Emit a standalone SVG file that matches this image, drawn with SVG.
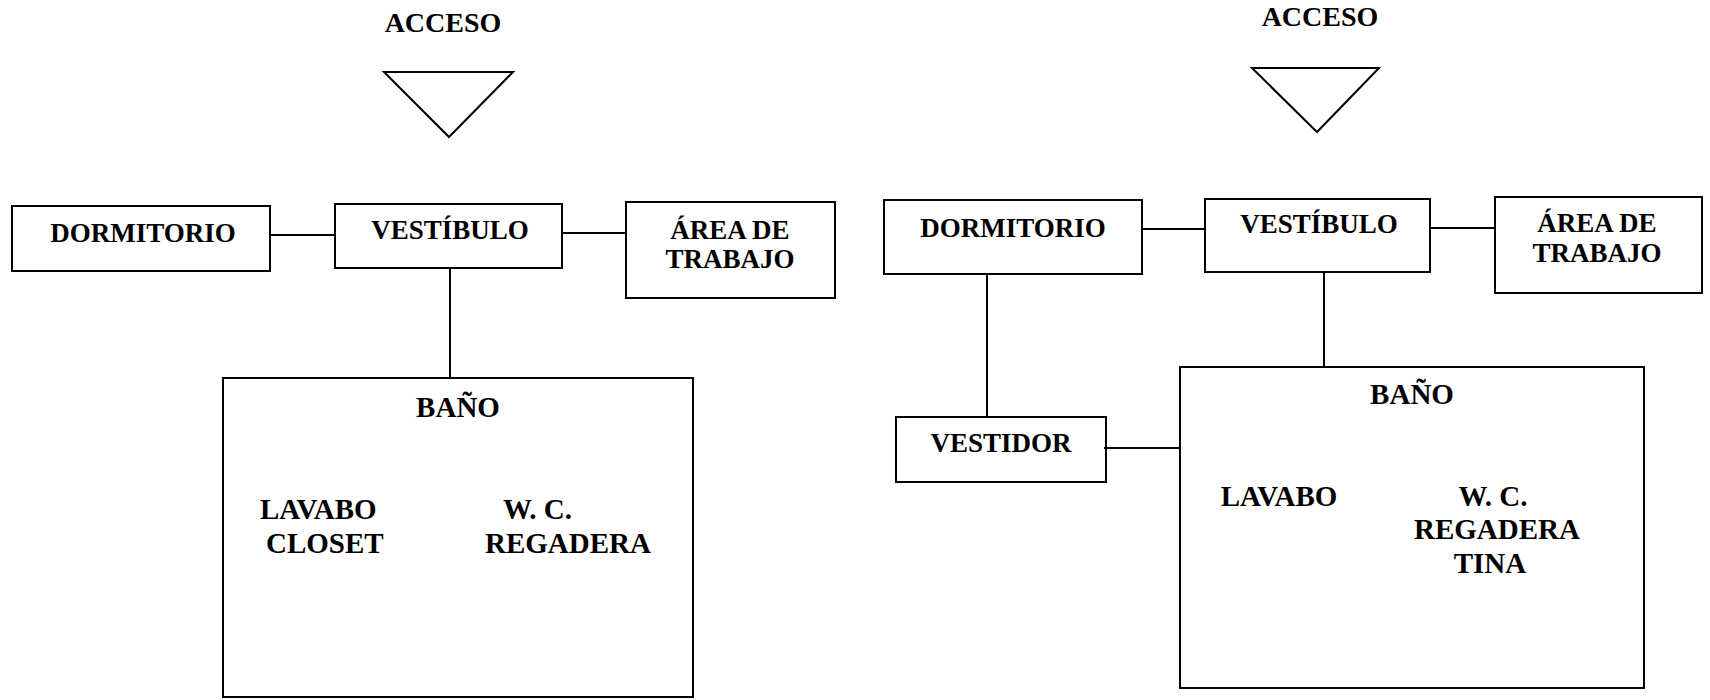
<svg xmlns="http://www.w3.org/2000/svg" width="1710" height="700" viewBox="0 0 1710 700">
<style>
.b{fill:none;stroke:#000;stroke-width:2}
.c{fill:none;stroke:#000;stroke-width:2}
text{font-family:"Liberation Serif","Times New Roman",serif;font-weight:bold;fill:#000}
.l{font-size:27px;text-anchor:middle}
.t{font-size:29px}
.m{text-anchor:middle}
.h{font-size:28px;text-anchor:middle}
</style>
<rect width="1710" height="700" fill="#fff"/>
<g id="connectors">
<line class="c" x1="270" y1="235" x2="335" y2="235"/>
<line class="c" x1="562" y1="233" x2="626" y2="233"/>
<line class="c" x1="450" y1="268" x2="450" y2="378"/>
<line class="c" x1="1142" y1="229" x2="1205" y2="229"/>
<line class="c" x1="1430" y1="228" x2="1495" y2="228"/>
<line class="c" x1="987" y1="274" x2="987" y2="417"/>
<line class="c" x1="1324" y1="272" x2="1324" y2="367"/>
<line class="c" x1="1104" y1="448" x2="1180" y2="448"/>
</g>
<g id="acceso-left">
<text class="h" x="443" y="32">ACCESO</text>
<polygon class="b" points="384,72 513,72 449,137"/>
</g>
<g id="dormitorio-left">
<rect class="b" x="12" y="206" width="258" height="65"/>
<text class="l" x="143" y="242">DORMITORIO</text>
</g>
<g id="vestibulo-left">
<rect class="b" x="335" y="204" width="227" height="64"/>
<text class="l" x="450" y="239">VESTÍBULO</text>
</g>
<g id="area-left">
<rect class="b" x="626" y="202" width="209" height="96"/>
<text class="l" x="730" y="239">ÁREA DE</text>
<text class="l" x="730" y="268">TRABAJO</text>
</g>
<g id="bano-left">
<rect class="b" x="223" y="378" width="470" height="319"/>
<text class="t m" x="458" y="417">BAÑO</text>
<text class="t" x="260" y="519">LAVABO</text>
<text class="t" x="266" y="553">CLOSET</text>
<text class="t" x="503" y="519">W. C.</text>
<text class="t" x="485" y="553">REGADERA</text>
</g>
<g id="acceso-right">
<text class="h" x="1320" y="26">ACCESO</text>
<polygon class="b" points="1252,68 1379,68 1317,132"/>
</g>
<g id="dormitorio-right">
<rect class="b" x="884" y="200" width="258" height="74"/>
<text class="l" x="1013" y="237">DORMITORIO</text>
</g>
<g id="vestibulo-right">
<rect class="b" x="1205" y="199" width="225" height="73"/>
<text class="l" x="1319" y="233">VESTÍBULO</text>
</g>
<g id="area-right">
<rect class="b" x="1495" y="197" width="207" height="96"/>
<text class="l" x="1597" y="232">ÁREA DE</text>
<text class="l" x="1597" y="262">TRABAJO</text>
</g>
<g id="vestidor">
<rect class="b" x="896" y="417" width="210" height="65"/>
<text class="l" x="1001" y="452">VESTIDOR</text>
</g>
<g id="bano-right">
<rect class="b" x="1180" y="367" width="464" height="321"/>
<text class="t m" x="1412" y="404">BAÑO</text>
<text class="t m" x="1279" y="506">LAVABO</text>
<text class="t m" x="1493" y="506">W. C.</text>
<text class="t m" x="1497" y="539">REGADERA</text>
<text class="t m" x="1490" y="573">TINA</text>
</g>
</svg>
